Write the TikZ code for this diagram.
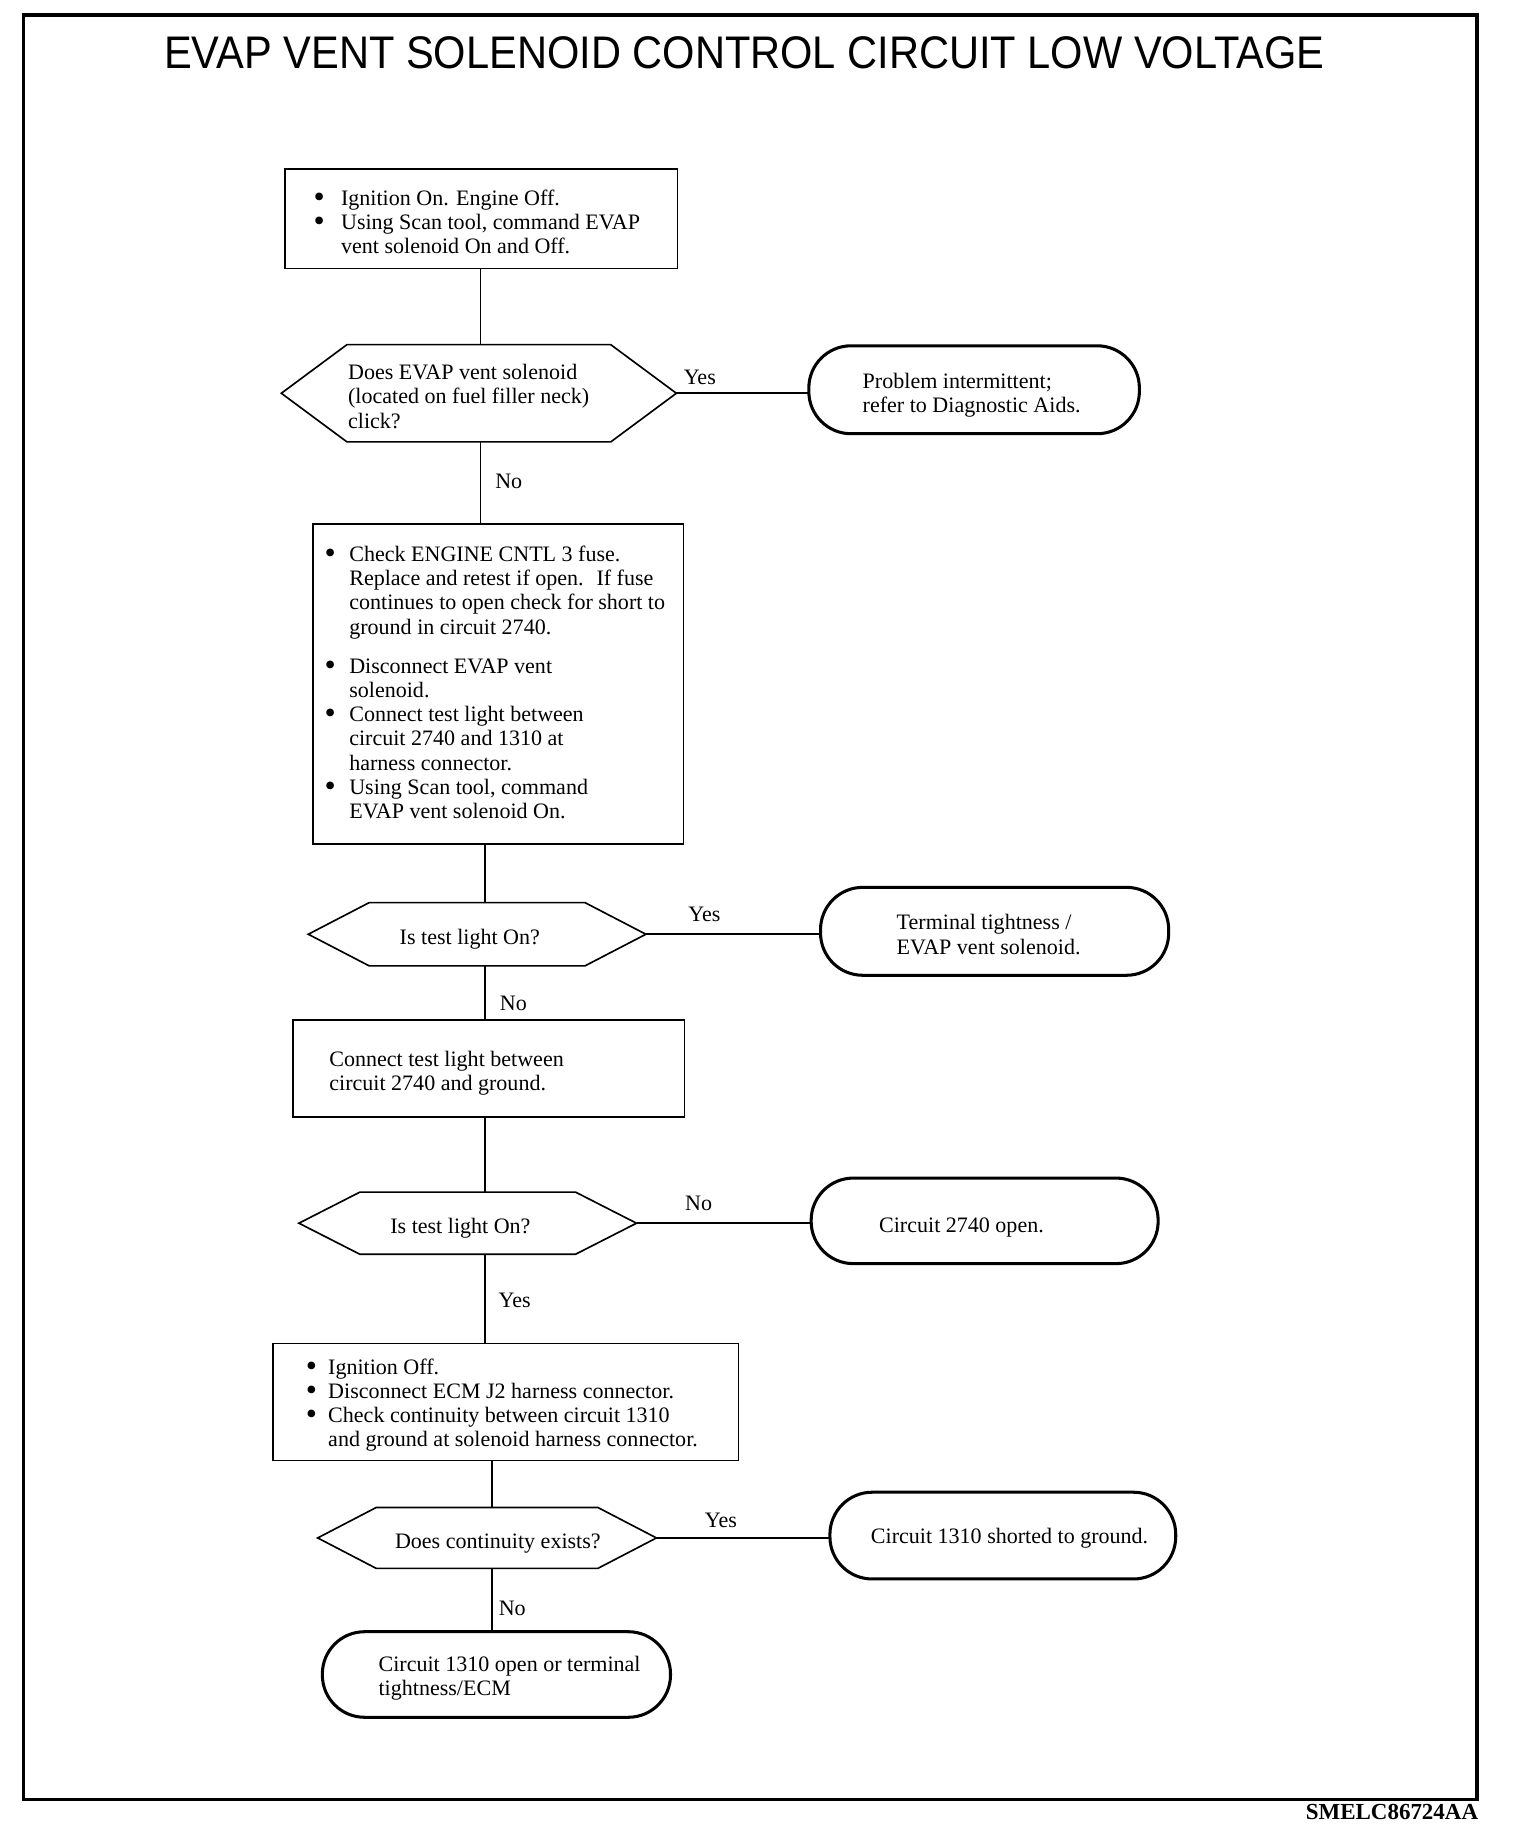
\documentclass[tikz,border=0pt]{standalone}
\usepackage{fontspec}
\setmainfont{Liberation Serif}
\newfontfamily\titlefont[FakeStretch=0.91]{Liberation Sans}
\usetikzlibrary{calc}
\newcommand\bodyfont{\fontsize{18.8}{20.6}\selectfont}
\newcommand\lefttext[3][-5pt]{\raisebox{#1}[\height][\depth]{\makebox[#2][l]{\begin{tabular}{@{}l@{}}#3\end{tabular}}}}
\newcommand\bullist[4][-5pt]{\raisebox{#1}[\height][\depth]{\makebox[#2][l]{\begin{tabular}{@{}p{#3}@{}l@{}}#4\end{tabular}}}}
\newcommand\bul{\hspace*{-1pt}\smash{\raisebox{-0.1em}{\scalebox{1.45}{\textbullet}}}}
\newcommand\hexdraw[2]{\draw[conn] (#1.west) -- ([xshift=#2]#1.north west) -- ([xshift=-#2]#1.north east) -- (#1.east) -- ([xshift=-#2]#1.south east) -- ([xshift=#2]#1.south west) -- cycle;}
\tikzset{
  every node/.style={inner sep=0pt, outer sep=0pt},
  boxnode/.style={draw, line width=1.4pt, rectangle, font=\bodyfont},
  termnode/.style={draw, line width=2.6pt, rounded corners=36pt, rectangle, font=\bodyfont},
  hexnode/.style={rectangle, font=\bodyfont},
  conn/.style={line width=1.4pt, line join=miter},
  lbl/.style={font=\bodyfont},
}
\begin{document}
\begin{tikzpicture}[x=1pt,y=-1pt]
\useasboundingbox (0,0) rectangle (1297,1568);
\draw[line width=3pt] (20,13) rectangle (1260,1535);
\node[font=\titlefont\fontsize{39}{42}\selectfont] (title) at (635,45) {EVAP VENT SOLENOID CONTROL CIRCUIT LOW VOLTAGE};
\node[font=\bfseries\fontsize{19.6}{22}\selectfont, anchor=east] (code) at (1261,1546) {SMELC86724AA};

% nodes
\node[boxnode, minimum width=335pt, minimum height=85pt] (b1) at (410.5,186.5)
  {\bullist{284pt}{22.5pt}{\bul & Ignition On. Engine Off.\\ \bul & Using Scan tool, command EVAP\\ & vent solenoid On and Off.}};
\node[hexnode, minimum width=337pt, minimum height=83pt] (d1) at (408.5,335.5)
  {\lefttext{223pt}{Does EVAP vent solenoid\\(located on fuel filler neck)\\click?}};
\hexdraw{d1}{56pt}
\node[termnode, minimum width=282pt, minimum height=75pt] (t1) at (831,332.5)
  {\lefttext{190pt}{Problem intermittent;\\refer to Diagnostic Aids.}};

\node[boxnode, minimum width=316pt, minimum height=273pt] (b2) at (425,583.5)
  {\bullist[-1pt]{294pt}{20pt}{\bul & Check ENGINE CNTL 3 fuse.\\ & Replace and retest if open.~ If fuse\\ & continues to open check for short to\\ & ground in circuit 2740.\\[13pt]
   \bul & Disconnect EVAP vent\\ & solenoid.\\ \bul & Connect test light between\\ & circuit 2740 and 1310 at\\ & harness connector.\\ \bul & Using Scan tool, command\\ & EVAP vent solenoid On.}};
\node[hexnode, minimum width=288pt, minimum height=54pt] (d2) at (407,797)
  {\lefttext{132pt}{Is test light On?}};
\hexdraw{d2}{52pt}
\node[termnode, minimum width=297pt, minimum height=75pt] (t2) at (848.5,794.5)
  {\lefttext{167pt}{Terminal tightness /\\EVAP vent solenoid.}};

\node[boxnode, minimum width=334pt, minimum height=83pt] (b3) at (417,911.5)
  {\lefttext[-4.5pt]{272pt}{Connect test light between\\circuit 2740 and ground.}};
\node[hexnode, minimum width=288pt, minimum height=53pt] (d3) at (399,1043.5)
  {\lefttext{132pt}{Is test light On?}};
\hexdraw{d3}{52pt}
\node[termnode, minimum width=296pt, minimum height=73pt] (t3) at (840,1041.5)
  {\lefttext[-5.5pt]{180pt}{Circuit 2740 open.}};

\node[boxnode, minimum width=397pt, minimum height=100pt] (b4) at (431.5,1196)
  {\bullist[-3pt]{339pt}{18pt}{\bul & Ignition Off.\\ \bul & Disconnect ECM J2 harness connector.\\ \bul & Check continuity between circuit 1310\\ & and ground at solenoid harness connector.}};
\node[hexnode, minimum width=289pt, minimum height=52pt] (d4) at (415.5,1312)
  {\lefttext[-4.5pt]{157pt}{Does continuity exists?}};
\hexdraw{d4}{50pt}
\node[termnode, minimum width=295pt, minimum height=74pt] (t4) at (855.5,1310)
  {\lefttext[-3pt]{225pt}{Circuit 1310 shorted to ground.}};
\node[termnode, minimum width=297pt, minimum height=73pt] (t5) at (423.5,1428.5)
  {\lefttext[-3.5pt]{201pt}{Circuit 1310 open or terminal\\tightness/ECM}};

% spines
\coordinate (s1) at (410,0);
\coordinate (s2) at (414,0);
\coordinate (s3) at (419.5,0);

% connectors
\draw[conn] (s1 |- b1.south) -- (s1 |- d1.north);
\draw[conn] (s1 |- d1.south) -- (s1 |- b2.north);
\draw[conn] (d1.east) -- (d1.east -| t1.west);
\draw[conn] (s2 |- b2.south) -- (s2 |- d2.north);
\draw[conn] (d2.east) -- (d2.east -| t2.west);
\draw[conn] (s2 |- d2.south) -- (s2 |- b3.north);
\draw[conn] (s2 |- b3.south) -- (s2 |- d3.north);
\draw[conn] (d3.east) -- (d3.east -| t3.west);
\draw[conn] (s2 |- d3.south) -- (s2 |- b4.north);
\draw[conn] (s3 |- b4.south) -- (s3 |- d4.north);
\draw[conn] (d4.east) -- (d4.east -| t4.west);
\draw[conn] (s3 |- d4.south) -- (s3 |- t5.north);

% labels
\node[lbl] (l1) at (597,322) {Yes};
\node[lbl] (l2) at (434,411) {No};
\node[lbl] (l3) at (601,780) {Yes};
\node[lbl] (l4) at (438,856) {No};
\node[lbl] (l5) at (596,1027) {No};
\node[lbl] (l6) at (439,1109) {Yes};
\node[lbl] (l7) at (615,1297) {Yes};
\node[lbl] (l8) at (437,1372) {No};
\end{tikzpicture}
\end{document}
